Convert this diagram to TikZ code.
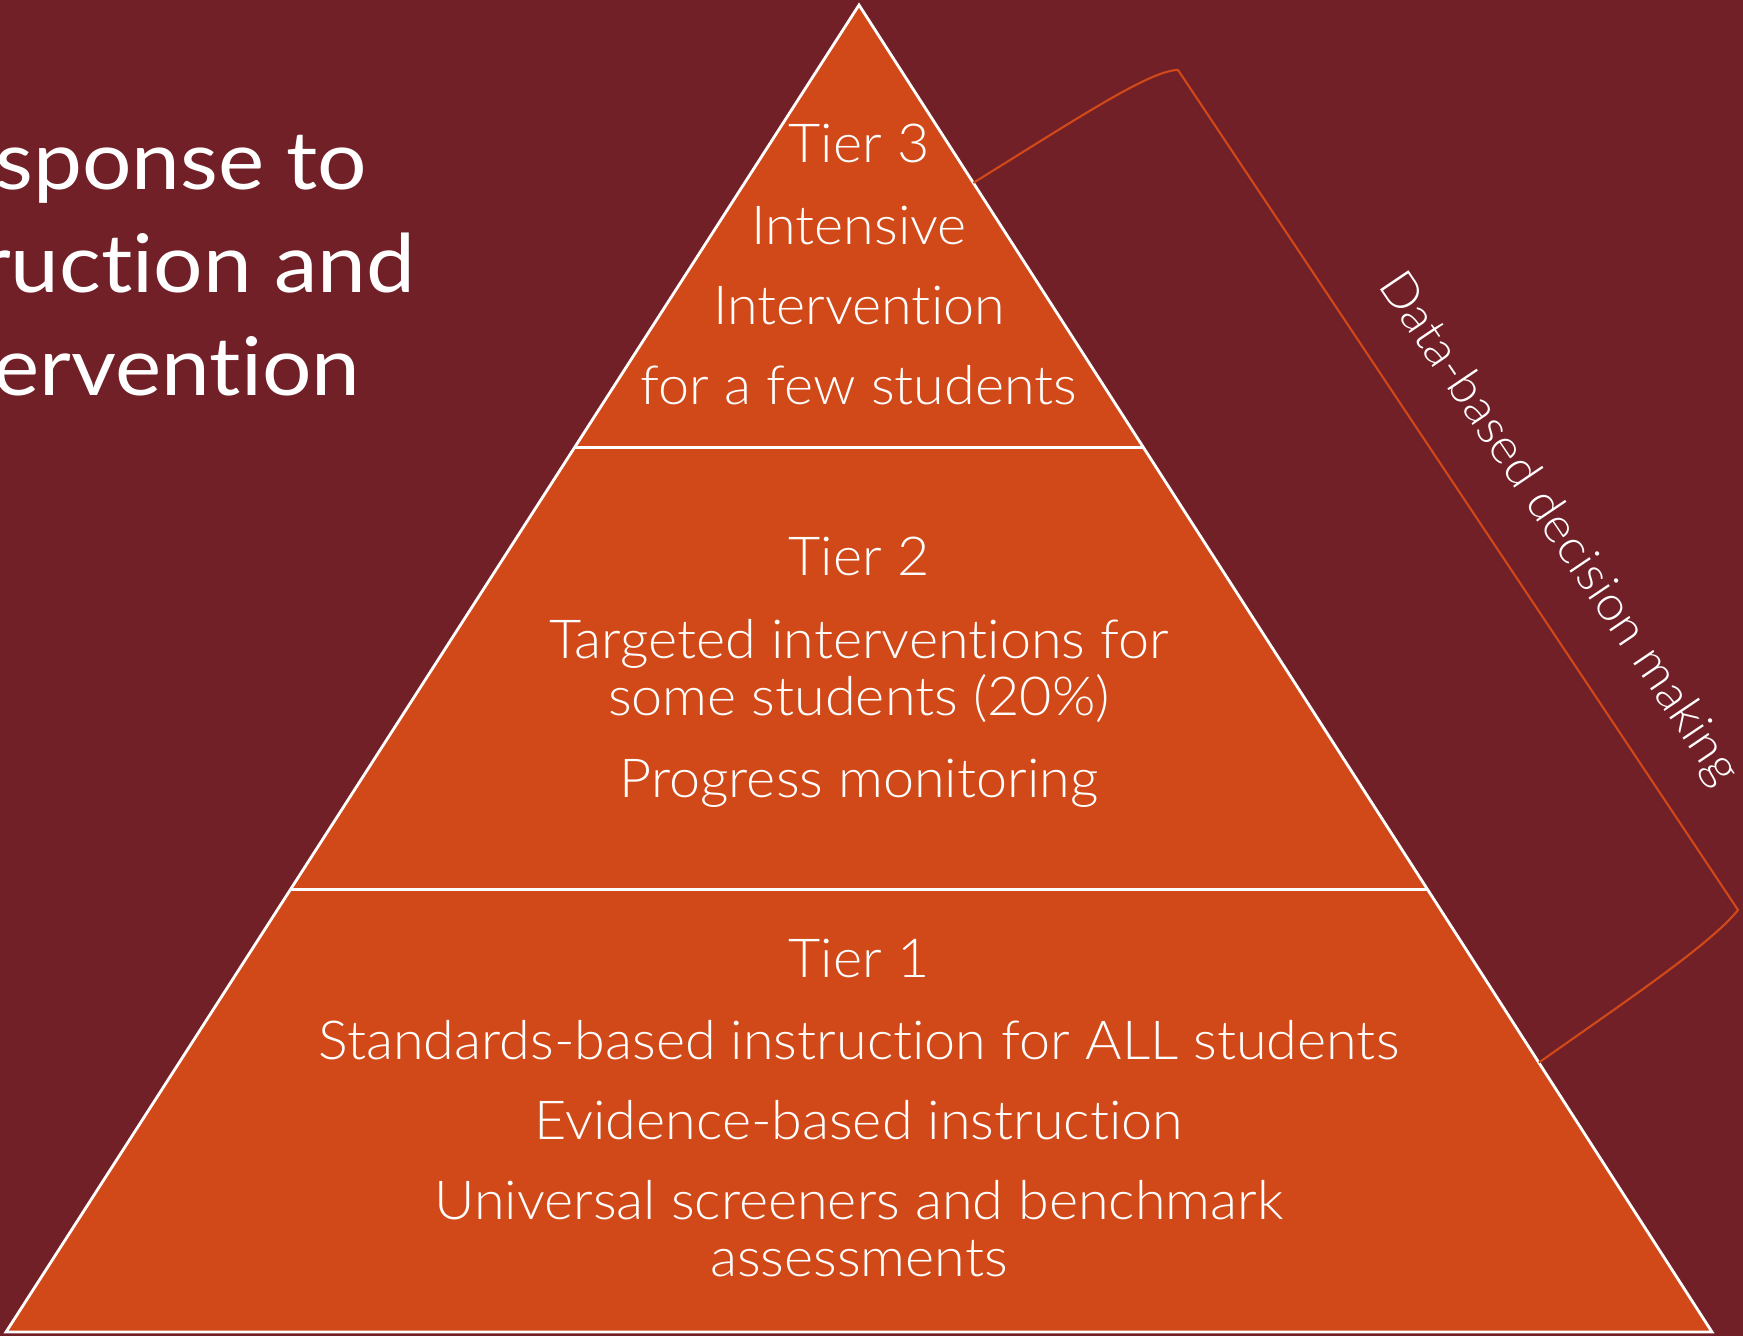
\documentclass[tikz,border=0pt]{standalone}
\usepackage{fontspec}
\setmainfont{Lato}[Ligatures=NoCommon, FakeStretch=1.08]
\newfontfamily\lightfont{Lato Light}[Ligatures=NoCommon, FakeStretch=1.035]
\usetikzlibrary{calc}

\definecolor{rtibg}{HTML}{722027}
\definecolor{rtiorange}{HTML}{D14918}

\tikzset{
  tierline/.style={line width=0.8pt, draw=white},
  tiertext/.style={anchor=base, text=white, inner sep=0pt, font=\lightfont\fontsize{15.3}{18}\selectfont},
  titletext/.style={anchor=base east, text=white, inner sep=0pt, font=\fontsize{23}{27}\selectfont},
  bracket/.style={line width=0.6pt, draw=rtiorange, line join=round},
}

\begin{document}
\begin{tikzpicture}[x=0.01cm, y=-0.01cm]
		%%%%% FRAME %%%%%
		\useasboundingbox (0, 0) rectangle (1743, 1336);
		\fill[rtibg] (0, 0) rectangle (1743, 1336);
		\clip (0, 0) rectangle (1743, 1336);
		
		%%%%% TITLE %%%%%
		\node[titletext] (title1) at (368, 189) {Response to};
		\node[titletext] (title2) at (416, 292) {Instruction and};
		\node[titletext] (title3) at (361, 395) {Intervention};
		
		%%%%% PYRAMID %%%%%
		\coordinate (apex) at (859, 5);
		\coordinate (bl) at (6, 1332);
		\coordinate (br) at (1712, 1332);
		\coordinate (l3) at ($(apex)!1/3!(bl)$);
		\coordinate (r3) at ($(apex)!1/3!(br)$);
		\coordinate (l2) at ($(apex)!2/3!(bl)$);
		\coordinate (r2) at ($(apex)!2/3!(br)$);
		
		\filldraw[fill=rtiorange, tierline] (apex) -- (br) -- (bl) -- cycle;
		\draw[tierline] (l3) -- (r3);
		\draw[tierline] (l2) -- (r2);
		
		% tier 3
		\node[tiertext] (t3a) at (859, 162) {Tier 3};
		\node[tiertext] (t3b) at (859, 244) {Intensive};
		\node[tiertext] (t3c) at (859, 324) {Intervention};
		\node[tiertext] (t3d) at (859, 404) {for a few students};
		
		% tier 2
		\node[tiertext] (t2a) at (859, 575) {Tier 2};
		\node[tiertext] (t2b) at (859, 658) {Targeted interventions for};
		\node[tiertext] (t2c) at (859, 715) {some students (20\%)};
		\node[tiertext] (t2d) at (859, 797) {Progress monitoring};
		
		% tier 1
		\node[tiertext] (t1a) at (859, 977) {Tier 1};
		\node[tiertext] (t1b) at (859, 1059) {Standards-based instruction for ALL students};
		\node[tiertext] (t1c) at (859, 1139) {Evidence-based instruction};
		\node[tiertext] (t1d) at (859, 1219) {Universal screeners and benchmark};
		\node[tiertext] (t1e) at (859, 1276) {assessments};
		
		%%%%% BRACKET %%%%%
		\coordinate (brtop) at ($(apex)!0.134!(br)$);
		\coordinate (brbot) at ($(apex)!0.797!(br)$);
		\coordinate (cnrtop) at (1178, 70);
		\coordinate (cnrbot) at (1738, 910);
		
		\draw[bracket] (brtop) .. controls (1075, 120) and (1150, 70) .. (cnrtop)
			-- (cnrbot) .. controls (1710, 945) and (1620, 1005) .. (brbot);
		
		\node[text=white, inner sep=0pt, rotate=-56, font=\lightfont\fontsize{13.8}{17}\selectfont] (dbdm) at (1558, 529) {Data-based decision making};
		
		%%%%% END %%%%%
	\end{tikzpicture}
\end{document}
